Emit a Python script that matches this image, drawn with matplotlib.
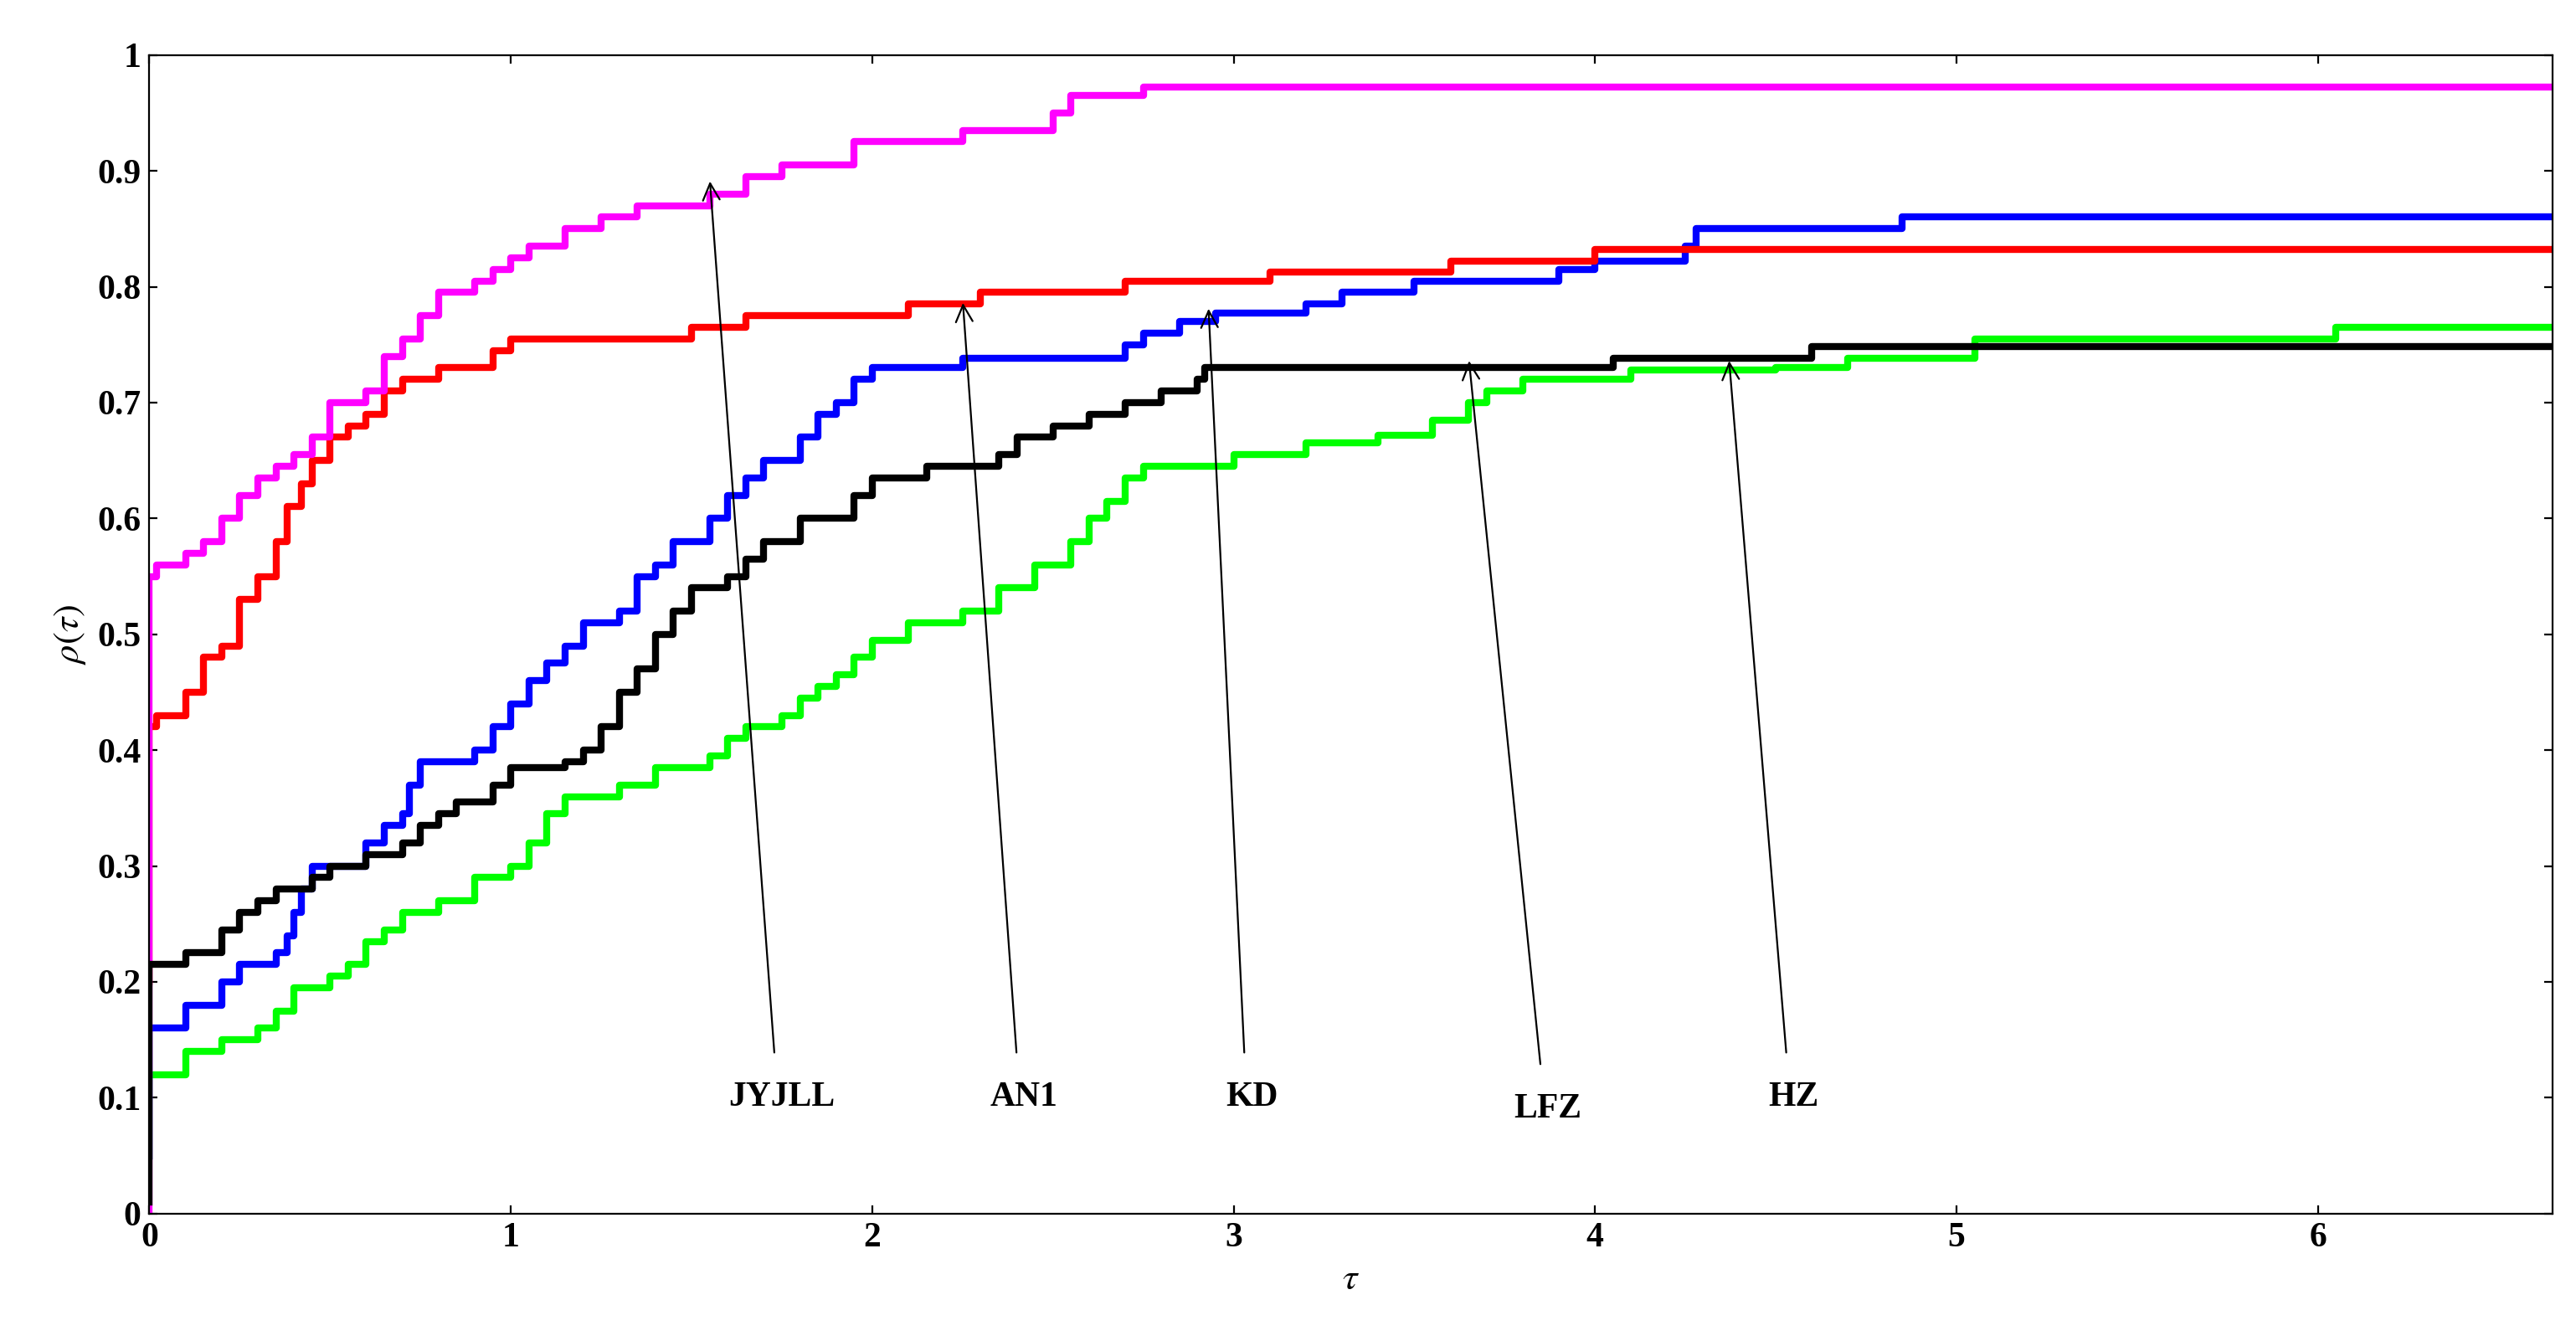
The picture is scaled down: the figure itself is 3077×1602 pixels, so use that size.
import matplotlib
matplotlib.use("Agg")
import matplotlib.pyplot as plt

plt.rcParams['font.family'] = ['Liberation Serif', 'DejaVu Serif']
plt.rcParams['mathtext.fontset'] = 'stix'

# performance profile breakpoints (tau, rho)
magenta = [(0, 0.0), (0, 0.55), (0.02, 0.56), (0.1, 0.57), (0.15, 0.58), (0.2, 0.60), (0.25, 0.62), (0.3, 0.635),
           (0.35, 0.645), (0.4, 0.655), (0.45, 0.67), (0.5, 0.70), (0.6, 0.71), (0.65, 0.74), (0.7, 0.755),
           (0.75, 0.775), (0.8, 0.795), (0.9, 0.805), (0.95, 0.815), (1.0, 0.825), (1.05, 0.835), (1.15, 0.85),
           (1.25, 0.86), (1.35, 0.87), (1.55, 0.88), (1.65, 0.895), (1.75, 0.905), (1.95, 0.925), (2.25, 0.935),
           (2.5, 0.95), (2.55, 0.965), (2.75, 0.972), (6.65, 0.972)]
red = [(0, 0.2), (0, 0.42), (0.02, 0.43), (0.1, 0.45), (0.15, 0.48), (0.2, 0.49), (0.25, 0.53), (0.3, 0.55),
       (0.35, 0.58), (0.38, 0.61), (0.42, 0.63), (0.45, 0.65), (0.5, 0.67), (0.55, 0.68), (0.6, 0.69), (0.65, 0.71),
       (0.7, 0.72), (0.8, 0.73), (0.95, 0.745), (1.0, 0.755), (1.5, 0.765), (1.65, 0.775), (2.1, 0.785),
       (2.3, 0.795), (2.7, 0.805), (3.1, 0.813), (3.6, 0.822), (4.0, 0.832), (6.65, 0.832)]
blue = [(0, 0.05), (0, 0.16), (0.1, 0.18), (0.2, 0.2), (0.25, 0.215), (0.35, 0.225), (0.38, 0.24), (0.4, 0.26),
        (0.42, 0.28), (0.45, 0.3), (0.6, 0.32), (0.65, 0.335), (0.7, 0.345), (0.72, 0.37), (0.75, 0.39),
        (0.9, 0.40), (0.95, 0.42), (1.0, 0.44), (1.05, 0.46), (1.1, 0.475), (1.15, 0.49), (1.2, 0.51), (1.3, 0.52),
        (1.35, 0.55), (1.4, 0.56), (1.45, 0.58), (1.55, 0.6), (1.6, 0.62), (1.65, 0.635), (1.7, 0.65), (1.8, 0.67),
        (1.85, 0.69), (1.9, 0.70), (1.95, 0.72), (2.0, 0.73), (2.25, 0.738), (2.7, 0.75), (2.75, 0.76),
        (2.85, 0.77), (2.95, 0.777), (3.2, 0.785), (3.3, 0.795), (3.5, 0.805), (3.9, 0.815), (4.0, 0.822),
        (4.25, 0.835), (4.28, 0.85), (4.85, 0.86), (6.65, 0.86)]
green = [(0, 0.05), (0, 0.12), (0.1, 0.14), (0.2, 0.15), (0.3, 0.16), (0.35, 0.175), (0.4, 0.195), (0.5, 0.205),
         (0.55, 0.215), (0.6, 0.235), (0.65, 0.245), (0.7, 0.26), (0.8, 0.27), (0.9, 0.29), (1.0, 0.30),
         (1.05, 0.32), (1.1, 0.345), (1.15, 0.36), (1.3, 0.37), (1.4, 0.385), (1.55, 0.395), (1.6, 0.41),
         (1.65, 0.42), (1.75, 0.43), (1.8, 0.445), (1.85, 0.455), (1.9, 0.465), (1.95, 0.48), (2.0, 0.495),
         (2.1, 0.51), (2.25, 0.52), (2.35, 0.54), (2.45, 0.56), (2.55, 0.58), (2.6, 0.60), (2.65, 0.615),
         (2.7, 0.635), (2.75, 0.645), (3.0, 0.655), (3.2, 0.665), (3.4, 0.672), (3.55, 0.685), (3.65, 0.70),
         (3.7, 0.71), (3.8, 0.72), (4.1, 0.728), (4.5, 0.73), (4.7, 0.738), (5.05, 0.755), (6.05, 0.765),
         (6.65, 0.765)]
black = [(0, 0.01), (0, 0.215), (0.1, 0.225), (0.2, 0.245), (0.25, 0.26), (0.3, 0.27), (0.35, 0.28), (0.45, 0.29),
         (0.5, 0.30), (0.6, 0.31), (0.7, 0.32), (0.75, 0.335), (0.8, 0.345), (0.85, 0.355), (0.95, 0.37),
         (1.0, 0.385), (1.15, 0.39), (1.2, 0.4), (1.25, 0.42), (1.3, 0.45), (1.35, 0.47), (1.4, 0.5), (1.45, 0.52),
         (1.5, 0.54), (1.6, 0.55), (1.65, 0.565), (1.7, 0.58), (1.8, 0.60), (1.95, 0.62), (2.0, 0.635),
         (2.15, 0.645), (2.35, 0.655), (2.4, 0.67), (2.5, 0.68), (2.6, 0.69), (2.7, 0.70), (2.8, 0.71),
         (2.9, 0.72), (2.92, 0.73), (4.05, 0.738), (4.6, 0.748), (6.65, 0.748)]

# label text position, arrow head
labels = ['JYJLL', 'AN1', 'KD', 'LFZ', 'HZ']
label_xy = [(1.75, 0.10), (2.42, 0.10), (3.05, 0.10), (3.87, 0.09), (4.55, 0.10)]
arrow_to = [(1.55, 0.895), (2.25, 0.79), (2.93, 0.785), (3.65, 0.74), (4.37, 0.74)]

fig = plt.figure(figsize=(15.385, 8.01), dpi=200)
ax = fig.add_axes([0.058, 0.095, 0.933, 0.864])

for pts, col in [(green, '#00ff00'), (blue, 'blue'), (red, 'red'), (magenta, 'magenta'), (black, 'black')]:
    xs, ys = zip(*pts)
    ax.plot(xs, ys, drawstyle='steps-post', color=col, lw=3)

for lab, (tx, ty), (hx, hy) in zip(labels, label_xy, arrow_to):
    ax.annotate('', xy=(hx, hy), xytext=(tx - 0.02, ty + 0.035),
                arrowprops=dict(arrowstyle='->', color='black', lw=0.8, mutation_scale=18))
    ax.text(tx, ty, lab, ha='center', va='center', fontsize=15, fontweight='bold')

ax.set_xlim(0, 6.65)
ax.set_ylim(0, 1)
ax.set_xticks(range(0, 7))
ax.set_yticks([i / 10 for i in range(11)])
ax.set_yticklabels(['0'] + [f'{i/10:.1f}' for i in range(1, 10)] + ['1'])
ax.tick_params(direction='in', labelsize=15, top=True, right=True)
for t in ax.get_xticklabels() + ax.get_yticklabels():
    t.set_fontweight('bold')
ax.set_xlabel(r'$\tau$', fontsize=16)
ax.set_ylabel(r'$\rho(\tau)$', fontsize=16)

fig.savefig('out.png', dpi=200)
